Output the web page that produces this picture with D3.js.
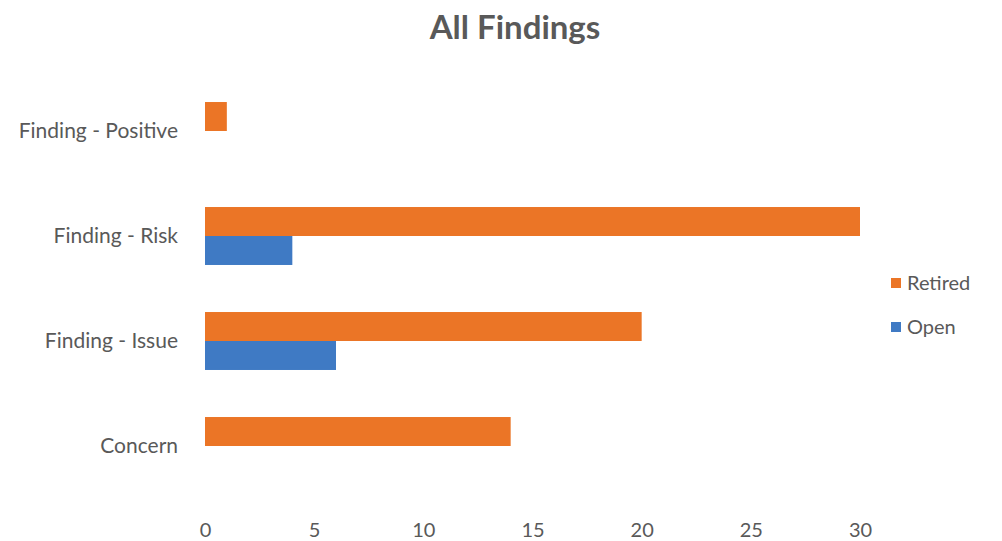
<!DOCTYPE html>
<html><head><meta charset="utf-8">
<script src="https://cdn.jsdelivr.net/npm/d3@7"></script>
<style>body{margin:0;background:#fff}svg{display:block}text{font-family:Lato,"Open Sans",sans-serif;fill:#595959}</style>
</head><body>
<svg id="c" width="1002" height="541"></svg>
<script>
const categories = ["Finding - Positive","Finding - Risk","Finding - Issue","Concern"];
const seriesNames = ["Retired","Open"];
const retired = [1, 30, 20, 14];
const open = [0, 4, 6, 0];
const xTicks = [0,5,10,15,20,25,30];
const colors = {Retired:"#EB7526", Open:"#3F7AC4"};

const svg = d3.select("#c");
const x = d3.scaleLinear().domain([0,30]).range([205,860]);
const y = d3.scaleBand().domain(categories).range([78.5,498.5]).paddingInner(0.448).paddingOuter(0.224);
const yi = d3.scaleBand().domain(seriesNames).range([0,y.bandwidth()]);

svg.append("text").attr("x",515).attr("y",39).attr("text-anchor","middle")
  .style("font-size","33px").style("font-weight","bold").style("fill","#595959").text("All Findings");

const data = [];
categories.forEach((c,i)=>{ data.push({c, s:"Retired", v:retired[i]}); data.push({c, s:"Open", v:open[i]}); });
svg.append("g").selectAll("rect").data(data.filter(d=>d.v>0)).join("rect")
  .attr("x",x(0)).attr("y",d=>y(d.c)+yi(d.s)).attr("width",d=>x(d.v)-x(0)).attr("height",yi.bandwidth())
  .attr("fill",d=>colors[d.s]);

const xa = svg.append("g").attr("transform","translate(0,530)")
  .call(d3.axisBottom(x).tickValues(xTicks).tickSize(0).tickPadding(0));
xa.select(".domain").remove();
xa.selectAll("text").style("font-size","20px").attr("dy","0.35em").style("fill","#595959").style("font-family","Lato,sans-serif");

const ya = svg.append("g").attr("transform","translate(178,0)")
  .call(d3.axisLeft(y).tickSize(0).tickPadding(0));
ya.select(".domain").remove();
ya.selectAll("text").style("font-size","21px").style("fill","#595959").style("font-family","Lato,sans-serif");

const lg = svg.append("g").selectAll("g").data(seriesNames).join("g")
  .attr("transform",(d,i)=>`translate(891,${283+i*44})`);
lg.append("rect").attr("x",0).attr("y",-5).attr("width",10).attr("height",10).attr("fill",d=>colors[d]);
lg.append("text").attr("x",16).attr("dy","0.35em").style("font-size","20px").text(d=>d);
</script>
</body></html>
